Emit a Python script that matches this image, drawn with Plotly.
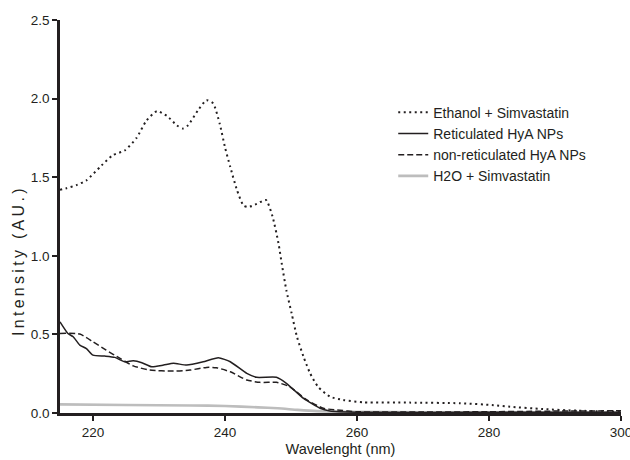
import plotly.graph_objects as go

eth_x = [215, 216, 217.5, 219, 221.3, 223, 224.8, 226.6, 228.1, 229.7, 231.2, 232.7, 233.6, 234.4,
         235.9, 237.2, 238.2, 239.2, 240, 240.8, 241.8, 242.8, 243.5, 244.8, 246.2, 247.2, 248.1,
         248.6, 249.3, 250.1, 250.9, 251.9, 252.9, 254.1, 255.9, 257.9, 261, 268, 275.6, 280.7,
         283.2, 288.2, 293.3, 300]
eth_y = [1.42, 1.43, 1.45, 1.48, 1.575, 1.64, 1.67, 1.75, 1.86, 1.92, 1.89, 1.83, 1.81, 1.83,
         1.925, 1.99, 1.97, 1.84, 1.69, 1.565, 1.42, 1.32, 1.31, 1.33, 1.355, 1.25, 1.08,
         0.95, 0.78, 0.633, 0.485, 0.358, 0.252, 0.167, 0.104, 0.083, 0.068, 0.066, 0.062, 0.05,
         0.04, 0.025, 0.015, 0.008]

ret_x = [215, 216.2, 217, 218, 219, 220, 221.8, 223.3, 224.8, 226.1, 227.4, 228.9, 230.7, 232.2,
         234.2, 236.7, 239, 240.8, 243.3, 244.8, 247.8, 249.3, 251.9, 254.4, 255.9, 260, 280, 300]
ret_y = [0.58, 0.506, 0.485, 0.432, 0.41, 0.368, 0.362, 0.354, 0.326, 0.332, 0.32, 0.294, 0.305, 0.316,
         0.305, 0.326, 0.352, 0.326, 0.252, 0.227, 0.227, 0.189, 0.093, 0.03, 0.013, 0.005, 0.004, 0.004]

non_x = [215, 218, 220, 222, 224.1, 226.1, 228.6, 232.2, 234.7, 237.2, 238.7, 240.8, 243.3, 245.3,
         247.8, 249.8, 252.4, 254.9, 257, 260, 270, 280, 290, 300]
non_y = [0.506, 0.502, 0.453, 0.40, 0.347, 0.30, 0.273, 0.267, 0.273, 0.29, 0.288, 0.262, 0.21, 0.195,
         0.195, 0.167, 0.083, 0.03, 0.019, 0.008, 0.006, 0.008, 0.012, 0.014]

h2o_x = [215, 225, 235, 240, 245, 248, 251, 254, 258, 270, 300]
h2o_y = [0.055, 0.051, 0.048, 0.045, 0.036, 0.03, 0.02, 0.012, 0.007, 0.005, 0.003]

names = ["Ethanol + Simvastatin", "Reticulated HyA NPs", "non-reticulated HyA NPs", "H2O + Simvastatin"]
x_ticks = [220, 240, 260, 280, 300]
y_ticks = [0.0, 0.5, 1.0, 1.5, 2.0, 2.5]

FONT = "Liberation Sans, Arial, Helvetica, sans-serif"
INK = "#231f20"

fig = go.Figure()
fig.add_trace(go.Scatter(x=h2o_x, y=h2o_y, name=names[3], mode="lines", legendrank=4, legendgroup="d",
                         line=dict(color="#bdbdbd", width=2.6, shape="spline", smoothing=0.6)))
fig.add_trace(go.Scatter(x=non_x, y=non_y, name=names[2], mode="lines", legendrank=3, legendgroup="c",
                         line=dict(color=INK, width=1.5, dash="6px,3px", shape="spline", smoothing=0.6)))
fig.add_trace(go.Scatter(x=ret_x, y=ret_y, name=names[1], mode="lines", legendrank=2, legendgroup="b",
                         line=dict(color=INK, width=1.5, shape="spline", smoothing=0.5)))
fig.add_trace(go.Scatter(x=eth_x, y=eth_y, name=names[0], mode="lines", legendrank=1, legendgroup="a",
                         line=dict(color=INK, width=2, dash="2px,3.5px", shape="spline", smoothing=0.6)))

fig.update_layout(
    width=630, height=460,
    margin=dict(l=60, r=9, t=19.5, b=47, pad=0, autoexpand=False),
    paper_bgcolor="white", plot_bgcolor="white",
    font=dict(family=FONT, size=13.5, color=INK),
    showlegend=True,
    legend=dict(x=0.594, xanchor="left", y=0.805, yanchor="top", bgcolor="rgba(0,0,0,0)",
                font=dict(size=14, color=INK), tracegroupgap=0, itemwidth=30),
    annotations=[dict(text='<span style="letter-spacing:3.3px">Intensity (AU.)</span>',
                      textangle=-90, xref="paper", yref="paper", x=-0.075, y=0.389,
                      xanchor="center", yanchor="middle", showarrow=False,
                      font=dict(size=16, color=INK))],
)
fig.update_xaxes(
    range=[215, 300], tickvals=x_ticks, ticktext=[str(v) for v in x_ticks],
    showline=True, linecolor=INK, linewidth=2.5, ticks="outside", ticklen=5, tickwidth=2,
    tickcolor=INK, showgrid=False, zeroline=False, ticklabeloverflow="allow", automargin=False,
    title=dict(text="Wavelenght (nm)", font=dict(size=14.5), standoff=5),
    tickfont=dict(size=13.5),
)
fig.update_yaxes(
    range=[0, 2.5], tickvals=y_ticks, ticktext=[f"{v:.1f}" for v in y_ticks],
    showline=True, linecolor=INK, linewidth=2.5, ticks="outside", ticklen=5, tickwidth=2,
    tickcolor=INK, showgrid=False, zeroline=False, ticklabeloverflow="allow", automargin=False,
    tickfont=dict(size=13.5),
)

fig.write_html("out.html")
